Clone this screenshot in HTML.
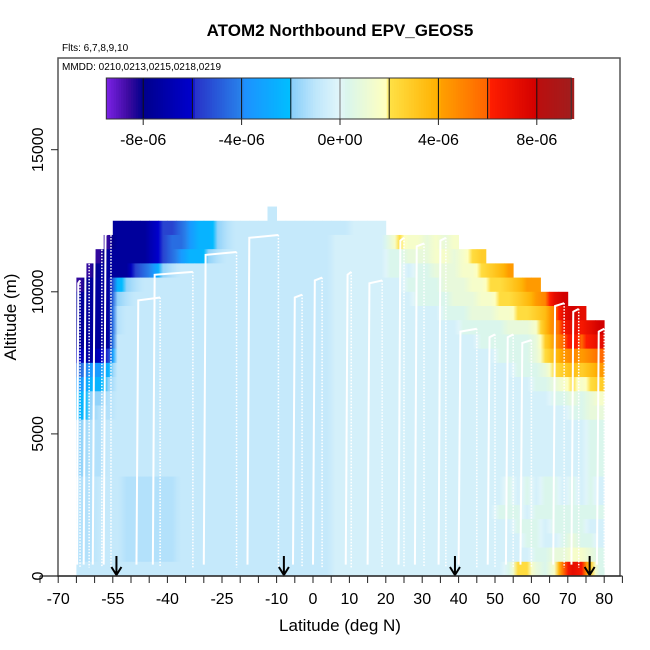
<!DOCTYPE html>
<html><head><meta charset="utf-8"><style>
html,body{margin:0;padding:0;background:#fff;}
svg{display:block;font-family:"Liberation Sans",Arial,sans-serif;}
</style></head><body>
<svg id="chart" width="650" height="650" viewBox="0 0 650 650" xmlns="http://www.w3.org/2000/svg">
<defs id="defs"></defs>
<text x="340" y="36" text-anchor="middle" font-size="17" font-weight="bold">ATOM2 Northbound EPV_GEOS5</text>
<text x="62" y="51" font-size="10">Flts: 6,7,8,9,10</text>
<g id="cells"></g>
<g id="profiles"></g>
<g id="arrows"></g>
<rect x="58" y="58" width="562" height="518" fill="none" stroke="#555" stroke-width="1.5"/>
<text x="62" y="70" font-size="10">MMDD: 0210,0213,0215,0218,0219</text>
<g id="cbar"></g>
<g id="axes"></g>
<text x="340" y="631" text-anchor="middle" font-size="17">Latitude (deg N)</text>
<text transform="translate(16,317) rotate(-90)" text-anchor="middle" font-size="17">Altitude (m)</text>
</svg>
<script>
// ---- data ----
const latStart = -65, latStep = 2.5;
const altStep = 500;
const codeValues = {A:-9.5,B:-8.5,C:-7.5,D:-6.5,E:-5.5,F:-4.5,G:-3.5,H:-2.5,I:-1.8,J:-1.2,K:-0.8,L:-0.4,M:0.3,N:0.9,O:1.5,P:2.2,Q:2.8,R:3.5,S:4.3,T:5,U:5.8,V:6.5,W:7.2,X:8};
// rows from top (12500-13000 m) down to 0-500 m, 58 columns each (x1e-6)
const gridRows = [
".....................K....................................",
"....CCCCDEEFGHHIJKKKKKKKKKKKKKLLLL........................",
"...BCCCCDEFFGHHIJKKKKKKKKKKKLLLLLLNPOONONO................",
"..BCCCCCDEFGHHIJKKKKKKKKKKKKLLLLLLMMNNNOONOPQ.............",
".BCCCCEFGIJKKKKKKKKKKKKKKKKKLLLLLLMMLMMNNNOOPQRS..........",
"BCCCHIJKKKKKKKKKKKKKKKKKKKKKLLLLLLLLMMMMNNNOOPPQRSS.......",
"CCCCIJKKKKKKKKKKKKKKKKKKKKKKLLLLLLLLLMMMMNNNOOPPQRSTWX....",
"CCCCJKKKKKKKKKKKKKKKKKKKKKKKLLLLLLLLLLLLMMMNNNOOPPQRTWXW..",
"CCCCJKKKKKKKKKKKKKKKKKKKKKKKLLLLLLLLLLLLLLMMMMMNNNORTVWVWX",
"CCCCKKKKKKKKKKKKKKKKKKKKKKKKLLLLLLLLLLLLLLLLMMMMMMNQSUVUVW",
"DCDEKKKKKKKKKKKKKKKKKKKKKKKKLLLLLLLLLLLLLLLLLLMMMMNPRSTSTU",
"FGGHKKKKKKKKKKKKKKKKKKKKKKKKLLLLLLLLLLLLLLLLLLLLMMMNPQRQRS",
"GHHIKKKKKKKKKKKKKKKKKKKKKKKKLLLLLLLLLLLLLLLLLLLLLLMMNOPOPQ",
"HIIJKKKKKKKKKKKKKKKKKKKKKKKKLLLLLLLLLLLLLLLLLLLLLLLLMMNMNO",
"HIJJKKKKKKKKKKKKKKKKKKKKKKKKLLLLLLLLLLLLLLLLLLLLLLLLLLMMNN",
"IJJKKKKKKKKKKKKKKKKKKKKKKKKKLLLLLLLLLLLLLLLLLLLLLLLLLLLLMM",
"IJJKKKKKKKKKKKKKKKKKKKKKKKKKLLLLLLLLLLLLLLLLLLLLLLLLLLLLMM",
"IJJKKKKKKKKKKKKKKKKKKKKKKKKKLLLLLLLLLLLLLLLLLLLLLLLLLLLLMM",
"IJJKKKKKKKKKKKKKKKKKKKKKKKKKLLLLLLLLLLLLLLLLLLLLLLLLLLLLMM",
"JJKKKJJJJJJKKKKKKKKKKKKKKKKKLLLLLLLLLLLLLLLLLLLMLMLMMLMLML",
"JJKKKJJJJJJKKKKKKKKKKKKKKKKKLLLLLLLLLLLLLLLLLLLMLMLMMLMLML",
"JJKKKJJJJJJKKKKKKKKKKKKKKKKKLLLLLLLLLLLLLLLLLLMMMLMMMMMMMM",
"JJKKKJJJJJJKKKKKKKKKKKKKKKKKLLLLLLLLLLLLLLLLLLLLMMMLMMMMLL",
"JJKKKJJJJJJKKKKKKKKKKKKKKKKKLLLLLLLLLLLLLLLLLLLLLMMLLMNMML",
"JJKKKJJJJJJKKKKKKKKKKKKKKKKKLLLLLLLLLLLLLLLLLLLLLLMMNNOONM",
"KKKKKKKKKKKKKKKKKKKKKKKKKKKKLLLLLLLLLLLLLLLLLLLMPPNMOUWVQM"
];
// flight profiles: ascent start lat, top-left lat, top-right lat, top altitude (m)
const profStart = [-64.8,-63,-60.5,-57.5,-48.5,-44,-30,-18,-5.5,0,9,15,23.5,28,34.5,40,48,53,57,66,71,78];
const profTopL  = [-64.5,-62.5,-60,-57,-48,-43.5,-29.5,-17.5,-5,0.5,9.5,15.5,24,28.5,35,40.5,48.5,53.5,57.5,66.5,71.5,78.5];
const profTopR  = [-64,-61.5,-58,-55.5,-42,-33,-21,-9.5,-3,2.5,10.5,19,25,30.5,36.5,45,50,55,60,69,73,80];
const profTop   = [10300,11200,11700,12000,9700,10600,11300,11900,9800,10400,10600,10300,11800,11600,11800,8600,8400,8400,8200,9500,9300,8600];
const arrowLats = [-54,-8,39,76];
const xTickLabels = [-70,-55,-40,-25,-10,0,10,20,30,40,50,60,70,80];
const yTickLabels = [0,5000,10000,15000];
const cbarTicks = [-8,-4,0,4,8];
const cbarBreaks = [-8,-6,-4,-2,0,2,4,6,8];

// ---- scales ----
const X = lat => 313 + lat*3.64;
const Y = alt => 576 - alt*0.02842;
const CB = v => 340 + v*24.6;
const NS = "http://www.w3.org/2000/svg";
function mk(tag, attrs, parent){const e=document.createElementNS(NS,tag);for(const k in attrs)e.setAttribute(k,attrs[k]);parent.appendChild(e);return e;}
const stops=[[-9.5,[124,34,230]],[-8.6,[60,10,160]],[-8,[0,0,140]],[-6,[0,0,205]],[-5.9,[40,50,200]],[-4,[40,130,235]],[-3.9,[30,144,255]],[-2,[0,191,255]],[-1.99,[135,206,250]],[-1,[190,230,251]],[0,[226,246,250]],[0.3,[218,246,236]],[1.9,[255,255,190]],[2,[255,225,70]],[4,[255,176,0]],[4.1,[255,160,0]],[6,[255,100,0]],[6.1,[255,30,0]],[8,[210,0,0]],[8.1,[185,15,15]],[9.5,[160,30,30]]];
function col(v){if(v<=stops[0][0])return 'rgb('+stops[0][1]+')';for(let i=1;i<stops.length;i++){if(v<=stops[i][0]){const a=stops[i-1],b=stops[i],t=(v-a[0])/(b[0]-a[0]);return 'rgb('+a[1].map((c,j)=>Math.round(c+(b[1][j]-c)*t)).join(',')+')';}}return 'rgb('+stops[stops.length-1][1]+')';}

// ---- heatmap ----
const cells=document.getElementById('cells');
const defs=document.getElementById('defs');
const nRows=gridRows.length;
let gid=0;
gridRows.forEach((row,ri)=>{
  const r=nRows-1-ri;
  const val=c=>{const ch=row[c];return (ch&&ch!=='.')?codeValues[ch]:null;};
  for(let c=0;c<58;c++){
    const v=val(c); if(v===null)continue;
    const vl=val(c-1), vr=val(c+1);
    const left=vl===null?v:(v+vl)/2, right=vr===null?v:(v+vr)/2;
    const id='g'+(gid++);
    const g=mk('linearGradient',{id:id,x1:0,y1:0,x2:1,y2:0},defs);
    mk('stop',{offset:0,'stop-color':col(left)},g);
    mk('stop',{offset:0.5,'stop-color':col(v)},g);
    mk('stop',{offset:1,'stop-color':col(right)},g);
    const lat0=latStart+c*latStep, lat1=lat0+latStep;
    const x0=X(lat0), x1=X(Math.min(lat1,80));
    const el=mk('rect',{x:x0.toFixed(2),y:Y((r+1)*altStep).toFixed(2),width:(x1-x0+0.4).toFixed(2),height:(altStep*0.02842+0.4).toFixed(2),fill:`url(#${id})`},cells);
    
    
  }
});
// ---- profiles ----
const prof=document.getElementById('profiles');
profStart.forEach((s,i)=>{
  const p=mk('polyline',{points:`${X(s)},${Y(400)} ${X(profTopL[i])},${Y(profTop[i])} ${X(profTopR[i])},${Y(profTop[i]+100)}`,fill:'none',stroke:'#fff','stroke-width':2},prof);
  
  
  const d=mk('line',{x1:X(profTopR[i]),y1:Y(profTop[i]+100),x2:X(profTopR[i]),y2:Y(300),stroke:'#fff','stroke-width':1.5,'stroke-dasharray':'1.5,1.5'},prof);
  
  
});
// ---- arrows ----
const arr=document.getElementById('arrows');
arrowLats.forEach(l=>{
  const x=X(l);
  const a=mk('path',{d:`M${x},556 L${x},575 M${x-5},567 L${x},575 L${x+5},567`,stroke:'#000','stroke-width':2,fill:'none'},arr);
  
  
});
// ---- axes ----
const ax=document.getElementById('axes');
mk('line',{x1:X(-75),y1:576,x2:X(85),y2:576,stroke:'#222','stroke-width':1.2},ax);
for(let l=-75;l<=85;l+=5){mk('line',{x1:X(l),y1:576,x2:X(l),y2:583,stroke:'#222'},ax);}
xTickLabels.forEach(l=>{const t=mk('text',{x:X(l),y:604,'text-anchor':'middle','font-size':16},ax);t.textContent=l;
  
  });
yTickLabels.forEach(a=>{const y=Y(a);mk('line',{x1:51,y1:y,x2:58,y2:y,stroke:'#222'},ax);
  const t=mk('text',{transform:`translate(43,${y}) rotate(-90)`,'text-anchor':'middle','font-size':16},ax);t.textContent=a;
  
  });
// ---- colorbar ----
const cb=document.getElementById('cbar');
const cbMin=-9.5, cbMax=9.4;
for(let v=cbMin;v<cbMax;v+=0.1){mk('rect',{x:CB(v).toFixed(2),y:78,width:(0.1*24.6+0.5).toFixed(2),height:41,fill:col(v+0.05)},cb);}
cbarBreaks.forEach(v=>mk('line',{x1:CB(v),y1:78,x2:CB(v),y2:119,stroke:v===0?'#777':'#111','stroke-width':1},cb));
mk('rect',{x:CB(cbMin),y:78,width:CB(cbMax)-CB(cbMin),height:41,fill:'none',stroke:'#333'},cb);
cbarTicks.forEach(v=>{mk('line',{x1:CB(v),y1:119,x2:CB(v),y2:125,stroke:'#222'},cb);
  const t=mk('text',{x:CB(v),y:145,'text-anchor':'middle','font-size':16},cb);
  t.textContent=v===0?'0e+00':(v+'e-06');
  
  });
</script>
</body></html>
